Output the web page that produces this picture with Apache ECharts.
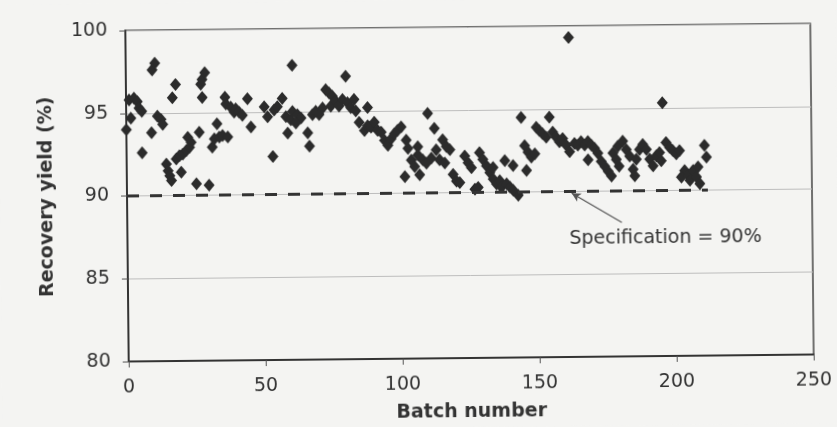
<!DOCTYPE html>
<html>
<head>
<meta charset="utf-8">
<script src="https://cdn.jsdelivr.net/npm/echarts@6/dist/echarts.min.js"></script>
<style>
html,body{margin:0;padding:0;background:#f4f4f2;overflow:hidden;}
#wrap{width:837px;height:427px;transform:rotate(-0.585deg);transform-origin:469.5px 193px;}
#chart{width:837px;height:427px;}
</style>
</head>
<body>
<div id="wrap"><div id="chart"></div></div>
<script>
// Batch numbers (x) and recovery yields (%)
const batchNumbers = [
 0,1.7,1.1,2.9,4.1,4.7,5.7,5.7,9.2,9.6,10.6,11.4,12.7,13.3,14.5,15.1,15.7,16.3,16.9,18.1,
 18.1,19.3,19.9,20.5,21.8,22.4,23,23.6,25.4,26.6,27.3,27.8,28.8,27.8,30,31.3,32.1,33.1,33.9,35.1,
 36.1,37,36.4,38.2,39.4,40,41.2,42.4,44.3,45.5,50.4,51.6,53.4,54,55.2,57,58.3,58.9,60.1,60.7,
 60.7,62.5,63.8,61.9,66.2,66.8,68,69.2,70.4,71.7,72.9,74.1,75.3,74.7,76.5,77.7,79,80.2,80.8,82,
 83.2,83.8,85,86.9,88.1,88.1,89.3,90.5,91.7,93,94.2,95.4,96.6,97.8,99,100.3,101.5,102.1,102.7,103.9,
 105.1,106.3,106.3,106.9,108.1,110,109.4,111.2,112.4,113,114.2,115.4,116.7,116.1,118,119.1,120.3,
 121.5,123.4,124.6,125.8,127,128.2,128.8,130,131.3,132.5,133.7,133.7,134.9,136.1,136.7,138,138.6,139.8,
 141,141,142.8,144.1,145.3,145.9,146.5,147.7,149,149.6,150.7,151.9,153.2,154.4,155.6,156.8,158,159.2,
 160.5,161.7,161.7,163.5,164.7,165.9,167.2,168.4,168.4,169.6,170.8,172,173.2,174.5,175.7,176.9,177.5,178.7,179.7,
 179.3,181.1,182.4,183.6,184.8,185.4,186,187.2,188.4,189.7,190.9,192.1,193.3,194.5,195.1,195.7,196.9,198.2,
 199.4,200.6,201.8,203.6,202.4,204.9,205.5,206.7,207.9,208.5,209.1,210.9,211.6
];
const recoveryYields = [
 94.0,94.7,95.8,95.9,95.7,95.3,95.1,92.6,93.8,97.6,98.0,94.8,94.6,94.3,91.9,91.5,91.2,90.9,95.9,96.7,
 92.2,92.4,91.4,92.5,92.7,93.5,92.9,93.2,90.7,93.8,96.7,97.0,97.4,95.9,90.6,92.9,93.4,94.3,93.5,93.6,
 95.9,93.5,95.5,95.3,95.0,95.2,95.0,94.8,95.8,94.1,95.3,94.7,92.3,95.1,95.3,95.8,94.7,93.7,94.5,97.8,
 95.0,94.8,94.6,94.3,93.7,92.9,94.8,95.0,94.8,95.2,96.3,96.1,95.9,95.3,95.6,95.3,95.7,97.1,95.5,95.2,
 95.7,95.0,94.3,93.8,95.2,94.1,94.0,94.3,93.8,93.7,93.2,92.9,93.3,93.6,93.8,94.0,91.0,93.2,92.7,92.0,
 91.6,92.8,92.3,91.1,92.0,94.8,91.8,92.1,93.9,92.6,92.0,93.2,92.8,91.8,92.6,91.1,90.7,
 90.6,92.2,91.8,91.5,90.2,90.3,92.4,92.0,91.6,91.2,91.5,90.8,90.5,90.7,90.3,91.9,90.5,90.3,
 91.6,90.1,89.8,94.5,92.8,91.3,92.4,92.1,92.3,93.9,93.7,93.5,93.3,94.5,93.6,93.3,93.0,93.2,
 92.8,92.4,99.3,92.9,92.8,93.0,92.8,91.9,93.0,92.8,92.6,92.3,91.8,91.5,91.2,90.9,92.3,91.9,91.5,
 92.7,93.0,92.5,92.1,91.3,90.9,91.9,92.5,92.8,92.5,91.9,91.5,92.1,92.3,91.8,95.3,92.9,92.6,
 92.4,92.2,92.4,91.2,90.8,90.9,90.6,91.2,90.8,91.4,90.4,92.7,92.0
];
const xTicks = [0, 50, 100, 150, 200, 250];
const yTicks = [80, 85, 90, 95, 100];
const specLimit = 90;
const lastBatch = 212;
const specLabel = 'Specification = 90%';
const arrowFrom = [180.5, 88.1];
const arrowTo = [162.3, 89.9];

const points = batchNumbers.map((b, i) => [b, recoveryYields[i]]);
const FONT = 'DejaVu Sans';
const TXT = '#333';

const chart = echarts.init(document.getElementById('chart'), null, {renderer: 'canvas'});
chart.setOption({
  backgroundColor: '#f4f4f2',
  animation: false,
  grid: {left: 127, top: 27, width: 685, height: 332, show: true, borderColor: '#444', borderWidth: 1.5, backgroundColor: 'transparent'},
  xAxis: {
    type: 'value', min: xTicks[0], max: xTicks[xTicks.length - 1], interval: 50,
    name: 'Batch number', nameLocation: 'middle', nameGap: 45,
    nameTextStyle: {fontFamily: FONT, fontWeight: 'bold', fontSize: 19, color: TXT},
    axisLine: {show: true, onZero: false, lineStyle: {color: '#333', width: 2}},
    axisTick: {show: true, length: 6, lineStyle: {color: '#555', width: 1}},
    axisLabel: {fontFamily: FONT, fontSize: 19, color: TXT, margin: 17},
    splitLine: {show: false}
  },
  yAxis: {
    type: 'value', min: yTicks[0], max: yTicks[yTicks.length - 1], interval: 5,
    name: 'Recovery yield (%)', nameLocation: 'middle', nameGap: 70, nameRotate: 90,
    nameTextStyle: {fontFamily: FONT, fontWeight: 'bold', fontSize: 19, color: TXT},
    axisLine: {show: true, onZero: false, lineStyle: {color: '#333', width: 2}},
    axisTick: {show: true, length: 6, lineStyle: {color: '#555', width: 1}},
    axisLabel: {fontFamily: FONT, fontSize: 19, color: TXT, margin: 18},
    splitLine: {show: true, lineStyle: {color: '#bdbdbd', width: 1}}
  },
  series: [
    {
      type: 'scatter', data: points, symbol: 'diamond', symbolSize: [11, 13],
      itemStyle: {color: '#2b2b2b', opacity: 1}, z: 3,
      markLine: {
        silent: true, symbol: ['none', 'none'], animation: false,
        label: {show: false},
        data: [
          [{coord: [0, specLimit], lineStyle: {color: '#333', width: 3, type: [12, 11]}}, {coord: [lastBatch, specLimit]}]
        ]
      }
    },
    {
      type: 'scatter', data: [],
      markLine: {
        silent: true, symbol: ['none', 'arrow'], symbolSize: [7, 9], animation: false,
        label: {show: false},
        lineStyle: {color: '#555', width: 1.2, type: 'solid'},
        data: [[{coord: arrowFrom}, {coord: arrowTo}]]
      }
    }
  ],
  graphic: [
    {type: 'text', left: 569, top: 231, style: {text: specLabel, fontFamily: FONT, fontSize: 19, fill: TXT}}
  ]
});
</script>
</body>
</html>
